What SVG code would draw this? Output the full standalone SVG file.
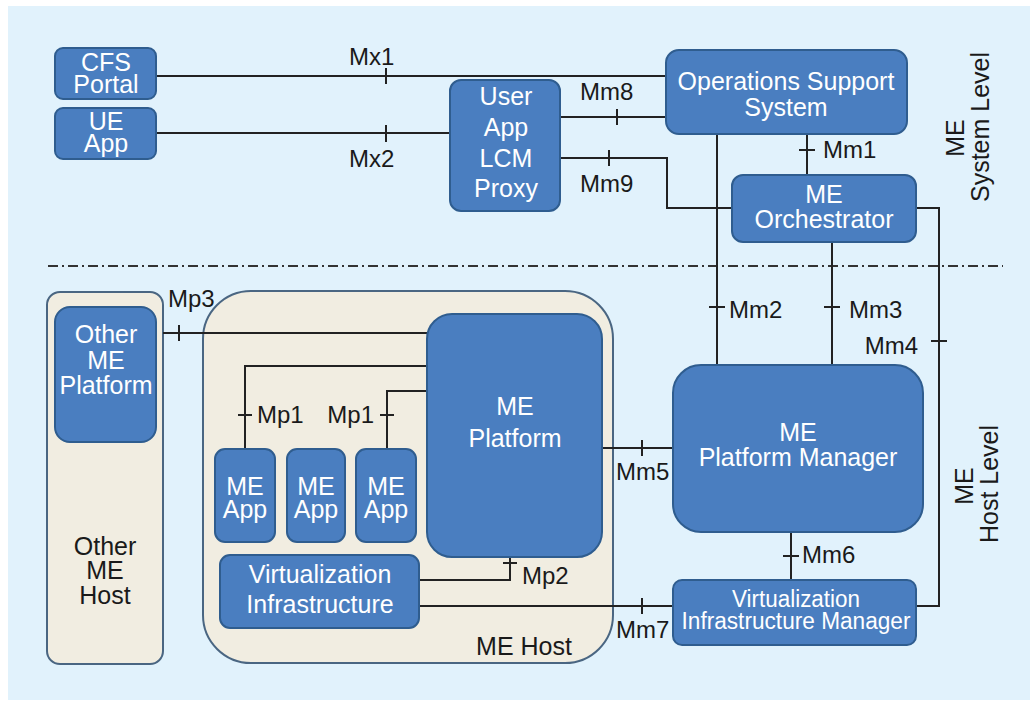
<svg xmlns="http://www.w3.org/2000/svg" width="1032" height="702" viewBox="0 0 1032 702">
<style>
.bg{fill:#e1f2fc}
.node{fill:#4a7ec0;stroke:#2f5d8f;stroke-width:2}
.host{fill:#f1ede1;stroke:#4a6682;stroke-width:2}
.nt{font-family:"Liberation Sans",Arial,sans-serif;font-size:25px;fill:#ffffff;text-anchor:middle}
.ht{font-family:"Liberation Sans",Arial,sans-serif;font-size:25px;fill:#1a1a1a;text-anchor:middle}
.lt{font-family:"Liberation Sans",Arial,sans-serif;font-size:24px;fill:#1a1a1a}
.end{text-anchor:end}
.wire{fill:none;stroke:#222222;stroke-width:2}
.tick{fill:none;stroke:#222222;stroke-width:2}
.sep{fill:none;stroke:#333333;stroke-width:2;stroke-dasharray:10 4 2 4}
</style>
<rect x="0" y="0" width="1032" height="702" fill="#ffffff"/>
<rect class="bg" x="8" y="6" width="1022" height="694"/>
<path class="sep" d="M48 266 H1003"/>

<g id="level-labels">
<text class="ht" transform="translate(964,138) rotate(-90)">ME</text>
<text class="ht" transform="translate(989,127) rotate(-90)">System Level</text>
<text class="ht" transform="translate(973,486) rotate(-90)">ME</text>
<text class="ht" transform="translate(998,484) rotate(-90)">Host Level</text>
</g>

<g id="other-me-host">
<rect class="host" x="47" y="292" width="116" height="372" rx="13"/>
<text class="ht" x="105" y="555">Other</text>
<text class="ht" x="105" y="579">ME</text>
<text class="ht" x="105" y="604">Host</text>
</g>
<g id="me-host">
<rect class="host" x="203" y="291" width="410" height="372" rx="48"/>
<text class="ht" x="524" y="655">ME Host</text>
</g>

<g id="connectors">
<path class="wire" d="M156 76 H666"/>
<path class="tick" d="M386 68 V84"/>
<text class="lt" x="349" y="65">Mx1</text>
<path class="wire" d="M156 133 H450"/>
<path class="tick" d="M386 125 V142"/>
<text class="lt" x="349" y="167">Mx2</text>
<path class="wire" d="M560 117 H666"/>
<path class="tick" d="M617 109 V125"/>
<text class="lt" x="580" y="100">Mm8</text>
<path class="wire" d="M560 158 H667 V208 H732"/>
<path class="tick" d="M609 150 V166"/>
<text class="lt" x="580" y="192">Mm9</text>
<path class="wire" d="M807 134 V175"/>
<path class="tick" d="M799 150 H815"/>
<text class="lt" x="823" y="158">Mm1</text>
<path class="wire" d="M717 134 V365"/>
<path class="tick" d="M709 307 H725"/>
<text class="lt" x="729" y="318">Mm2</text>
<path class="wire" d="M832 242 V365"/>
<path class="tick" d="M824 307 H840"/>
<text class="lt" x="849" y="318">Mm3</text>
<path class="wire" d="M916 208 H939 V606 H916"/>
<path class="tick" d="M931 341 H947"/>
<text class="lt end" x="918" y="354">Mm4</text>
<path class="wire" d="M602 448 H673"/>
<path class="tick" d="M642 440 V456"/>
<text class="lt" x="616" y="480">Mm5</text>
<path class="wire" d="M791 532 V580"/>
<path class="tick" d="M783 556 H799"/>
<text class="lt" x="802" y="563">Mm6</text>
<path class="wire" d="M419 606 H673"/>
<path class="tick" d="M642 598 V614"/>
<text class="lt" x="616" y="638">Mm7</text>
<path class="wire" d="M419 580 H510 V557"/>
<path class="tick" d="M503 563 H517"/>
<text class="lt" x="522" y="584">Mp2</text>
<path class="wire" d="M163 333 H427"/>
<path class="tick" d="M179 325 V341"/>
<text class="lt" x="168" y="307">Mp3</text>
<path class="wire" d="M427 366 H245 V449"/>
<path class="tick" d="M238 415 H252"/>
<text class="lt" x="257" y="423">Mp1</text>
<path class="wire" d="M427 391 H387 V449"/>
<path class="tick" d="M380 415 H394"/>
<text class="lt end" x="374" y="423">Mp1</text>
</g>

<g id="cfs-portal">
<rect class="node" x="55" y="48" width="101" height="51" rx="8"/>
<text class="nt" x="106" y="71">CFS</text>
<text class="nt" x="106" y="93">Portal</text>
</g>
<g id="ue-app">
<rect class="node" x="55" y="108" width="101" height="51" rx="8"/>
<text class="nt" x="106" y="130">UE</text>
<text class="nt" x="106" y="152">App</text>
</g>
<g id="user-app-lcm-proxy">
<rect class="node" x="450" y="80" width="110" height="131" rx="11"/>
<text class="nt" x="506" y="105">User</text>
<text class="nt" x="506" y="136">App</text>
<text class="nt" x="506" y="167">LCM</text>
<text class="nt" x="506" y="197">Proxy</text>
</g>
<g id="oss">
<rect class="node" x="666" y="50" width="241" height="84" rx="13"/>
<text class="nt" x="786" y="90">Operations Support</text>
<text class="nt" x="786" y="116">System</text>
</g>
<g id="me-orchestrator">
<rect class="node" x="732" y="175" width="184" height="67" rx="11"/>
<text class="nt" x="824" y="203">ME</text>
<text class="nt" x="824" y="228">Orchestrator</text>
</g>
<g id="other-me-platform">
<rect class="node" x="55" y="307" width="101" height="135" rx="15"/>
<text class="nt" x="106" y="343">Other</text>
<text class="nt" x="106" y="369">ME</text>
<text class="nt" x="106" y="394">Platform</text>
</g>
<g id="me-platform">
<rect class="node" x="427" y="314" width="175" height="243" rx="25"/>
<text class="nt" x="515" y="415">ME</text>
<text class="nt" x="515" y="447">Platform</text>
</g>
<g id="me-app-1">
<rect class="node" x="215" y="449" width="60" height="93" rx="10"/>
<text class="nt" x="245" y="495">ME</text>
<text class="nt" x="245" y="518">App</text>
</g>
<g id="me-app-2">
<rect class="node" x="287" y="449" width="58" height="93" rx="10"/>
<text class="nt" x="316" y="495">ME</text>
<text class="nt" x="316" y="518">App</text>
</g>
<g id="me-app-3">
<rect class="node" x="356" y="449" width="60" height="93" rx="10"/>
<text class="nt" x="386" y="495">ME</text>
<text class="nt" x="386" y="518">App</text>
</g>
<g id="virtualization-infrastructure">
<rect class="node" x="220" y="555" width="199" height="73" rx="10"/>
<text class="nt" x="320" y="583">Virtualization</text>
<text class="nt" x="320" y="613">Infrastructure</text>
</g>
<g id="me-platform-manager">
<rect class="node" x="673" y="365" width="250" height="167" rx="28"/>
<text class="nt" x="798" y="441">ME</text>
<text class="nt" x="798" y="466">Platform Manager</text>
</g>
<g id="vim">
<rect class="node" x="673" y="580" width="243" height="65" rx="9"/>
<text class="nt" x="796" y="607" style="font-size:23px" textLength="128" lengthAdjust="spacingAndGlyphs">Virtualization</text>
<text class="nt" x="796" y="629" style="font-size:23px" textLength="229" lengthAdjust="spacingAndGlyphs">Infrastructure Manager</text>
</g>
</svg>
